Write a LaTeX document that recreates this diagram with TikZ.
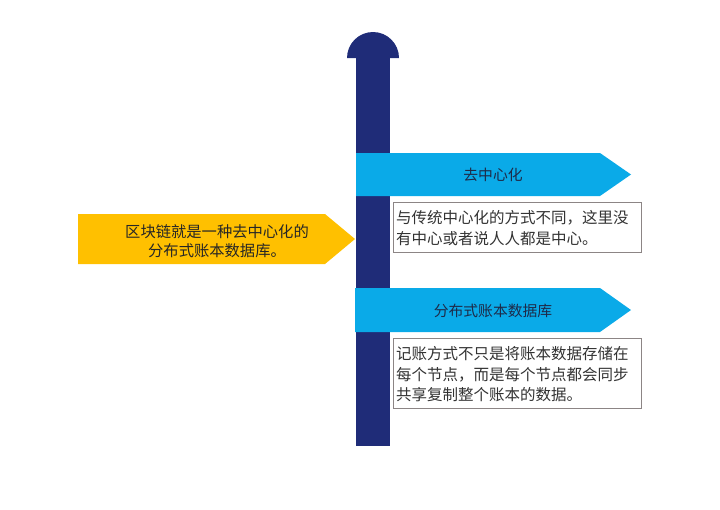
\documentclass[tikz,border=0pt]{standalone}
\usepackage{fontspec}
\newfontfamily\cjk{Noto Sans CJK SC}
\definecolor{navy}{HTML}{1F2C78}
\definecolor{skyb}{HTML}{0AAAE8}
\definecolor{gold}{HTML}{FFC000}
\definecolor{boxline}{HTML}{8C8585}
\definecolor{txt}{HTML}{333333}
\definecolor{ttl}{HTML}{1E2A48}
\tikzset{
  pole/.style={fill=navy},
  bluearrow/.style={fill=skyb},
  yellowarrow/.style={fill=gold},
  infobox/.style={draw=boxline, line width=1pt, fill=white},
  bodytext/.style={font=\cjk\fontsize{15.5}{20.5}\selectfont, text=txt, align=left, inner sep=0pt, anchor=west},
  titletext/.style={font=\cjk\fontsize{14.8}{18}\selectfont, text=ttl, inner sep=0pt},
  maintext/.style={font=\cjk\fontsize{15.3}{18.5}\selectfont, text=black!85, align=center, inner sep=0pt}
}
\begin{document}
\begin{tikzpicture}[x=1pt,y=-1pt]
\useasboundingbox (0,0) rectangle (720,509);
% pole
\fill[pole] (356,58) rectangle (390,446);
\fill[pole] (347,58) arc[start angle=180,end angle=360,radius=26] -- cycle;
% yellow arrow
\fill[yellowarrow] (78,214) -- (325,214) -- (355,239) -- (325,264) -- (78,264) -- cycle;
\node[maintext] (main) at (217,241) {区块链就是一种去中心化的\\分布式账本数据库。};
% blue arrow 1
\fill[bluearrow] (356,153) -- (600,153) -- (631,174.5) -- (600,196) -- (356,196) -- cycle;
\node[titletext] (t1) at (493,174.5) {去中心化};
\draw[infobox] (393,202) rectangle (641,252);
\node[bodytext] (b1) at (396,228) {与传统中心化的方式不同，这里没\\有中心或者说人人都是中心。};
% blue arrow 2
\fill[bluearrow] (355,288) -- (600,288) -- (631,310) -- (600,332) -- (355,332) -- cycle;
\node[titletext] (t2) at (493,311) {分布式账本数据库};
\draw[infobox] (393,338) rectangle (641,408);
\node[bodytext] (b2) at (396,374.5) {记账方式不只是将账本数据存储在\\每个节点，而是每个节点都会同步\\共享复制整个账本的数据。};
\end{tikzpicture}
\end{document}
